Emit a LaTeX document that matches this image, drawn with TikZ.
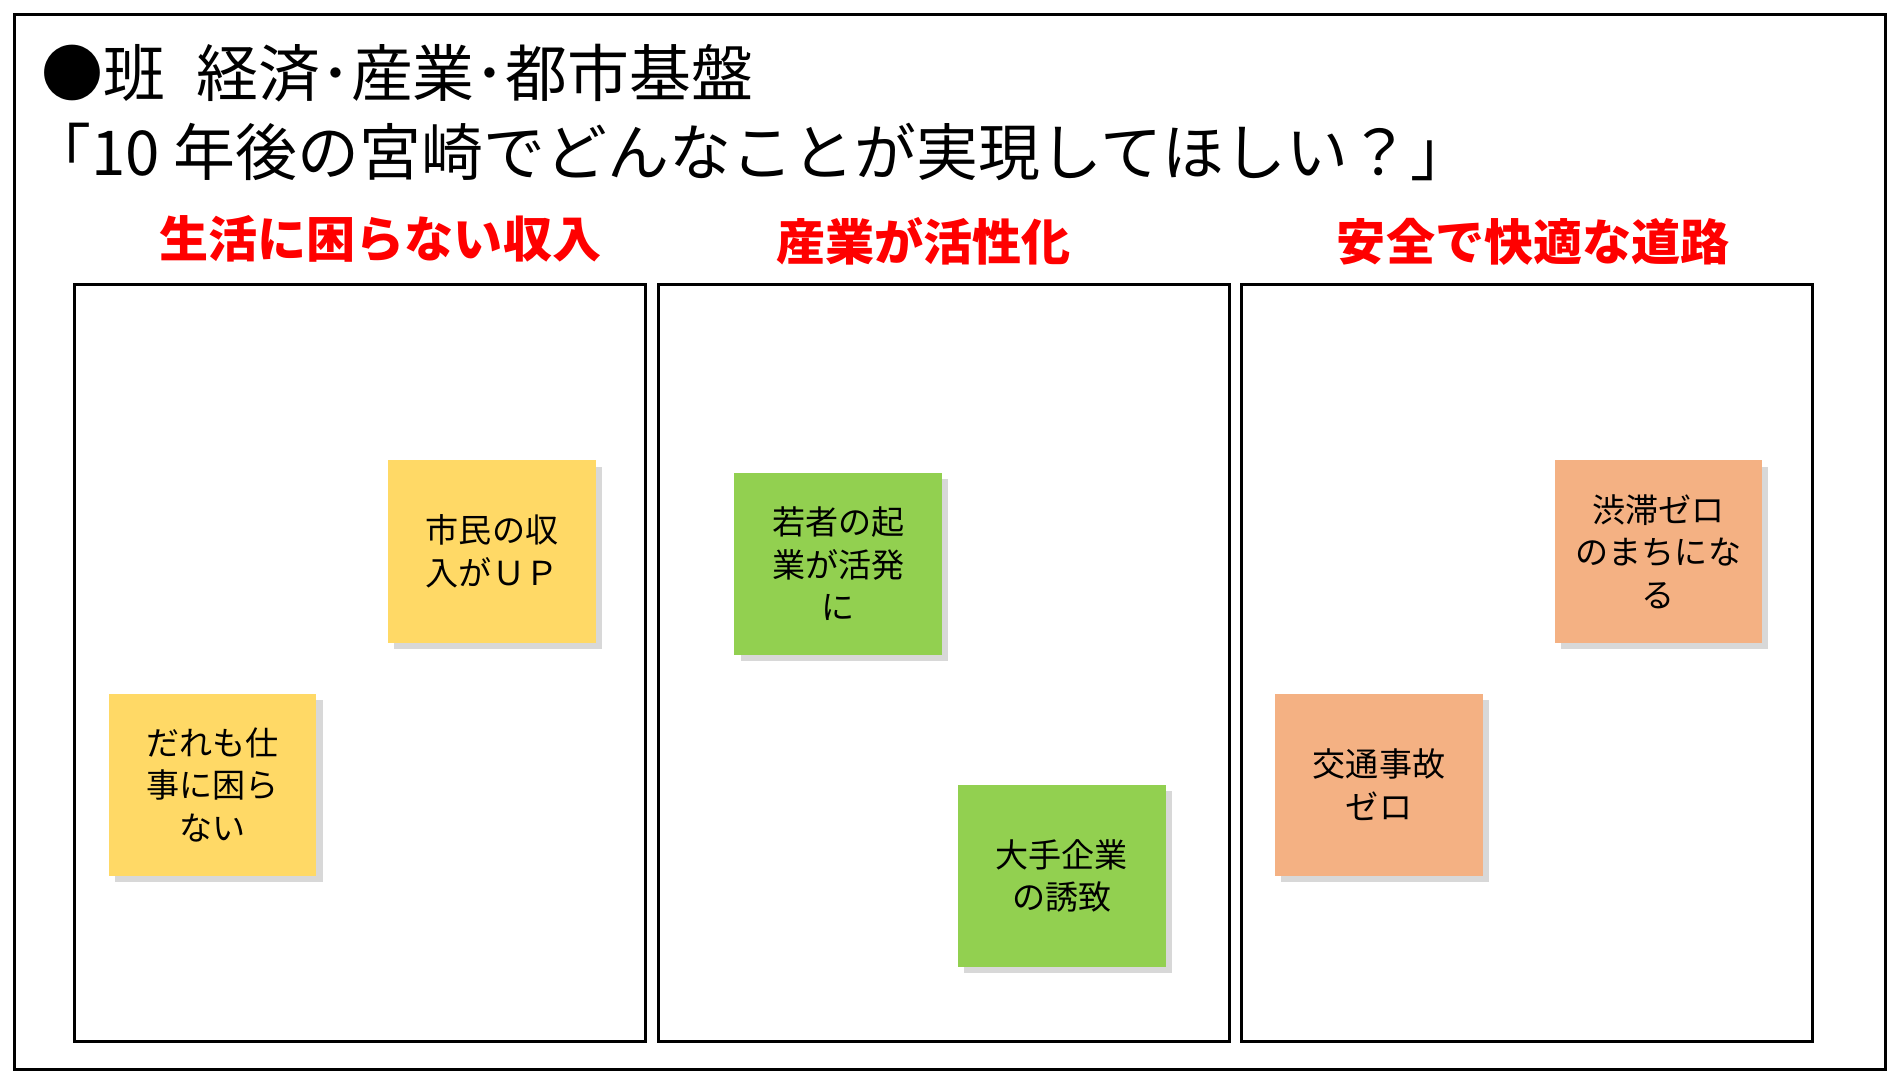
\documentclass[tikz,border=0pt]{standalone}
\usepackage{fontspec}
\setmainfont{Noto Sans CJK JP}
\usetikzlibrary{positioning,shadows}
\definecolor{noteyellow}{HTML}{FFD966}
\definecolor{notegreen}{HTML}{92D050}
\definecolor{noteorange}{HTML}{F4B183}
\tikzset{
  panel/.style={draw,line width=1.5pt},
  heading/.style={text=red,font=\fontsize{23}{27}\selectfont\bfseries},
  note/.style={minimum width=3.42cm,minimum height=3cm,align=center,
    font=\fontsize{15.5}{20}\selectfont,
    drop shadow={shadow xshift=0.1cm,shadow yshift=-0.1cm,fill=gray!60}}
}
\begin{document}
\begin{tikzpicture}[x=0.02cm,y=-0.02cm]
    \useasboundingbox (0,0) rectangle (1563,889);
    \draw[line width=1.5pt] (12,12) rectangle (1552,880);
    \node (title1)[anchor=west,font=\fontsize{29}{34}\selectfont] at (28,60) {●班\enspace 経済･産業･都市基盤};
    \node (title2)[anchor=west,font=\fontsize{29}{34}\selectfont] at (18,125) {「10 年後の宮崎でどんなことが実現してほしい？」};
    % panels
    \draw[panel] (61,234) rectangle (531,857);
    \draw[panel] (542,234) rectangle (1012,857);
    \draw[panel] (1022,234) rectangle (1492,857);
    \node (h1)[heading] at (313,197) {生活に困らない収入};
    \node (h2)[heading] at (760,199) {産業が活性化};
    \node (h3)[heading] at (1262,199) {安全で快適な道路};
    % notes
    \node (n1)[note,fill=noteyellow] at (405,454) {市民の収\\入がＵＰ};
    \node (n2)[note,fill=noteyellow] at (175,646) {だれも仕\\事に困ら\\ない};
    \node (n3)[note,fill=notegreen] at (690,464) {若者の起\\業が活発\\に};
    \node (n4)[note,fill=notegreen] at (874,721) {大手企業\\の誘致};
    \node (n5)[note,fill=noteorange] at (1365,454) {渋滞ゼロ\\のまちにな\\る};
    \node (n6)[note,fill=noteorange] at (1135,646) {交通事故\\ゼロ};
\end{tikzpicture}
\end{document}
